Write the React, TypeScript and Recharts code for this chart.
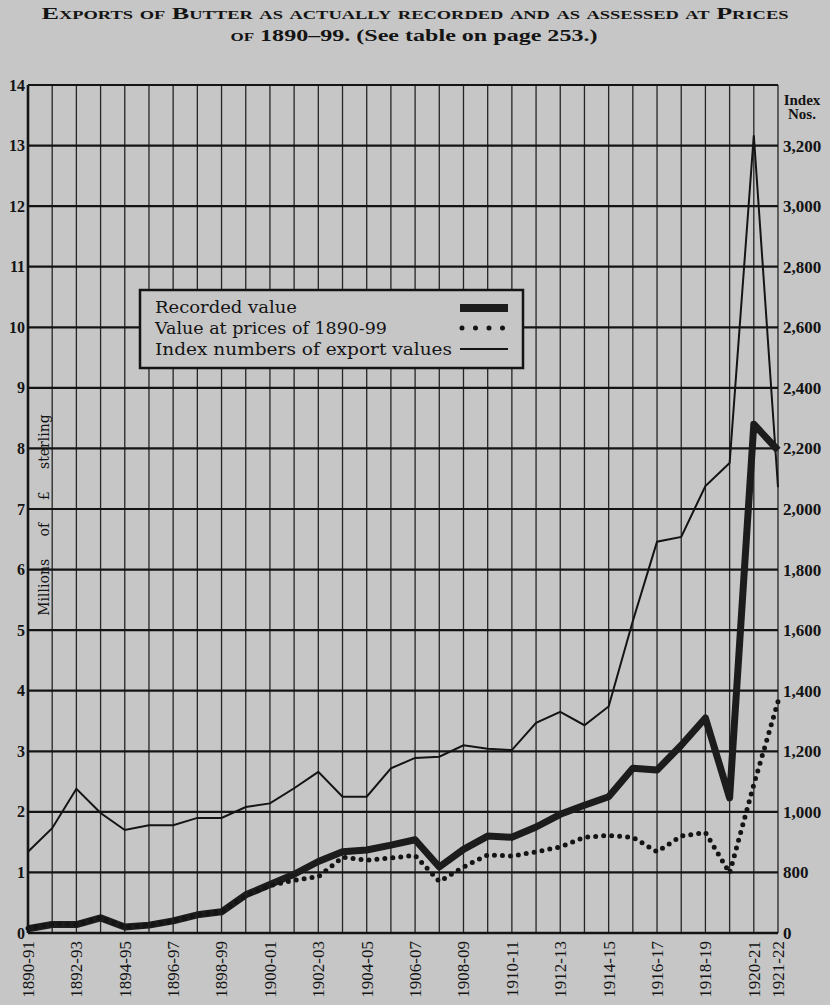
import React from 'react';
import { LineChart, Line, XAxis, YAxis, CartesianGrid } from 'recharts';

const years = [
  '1890-91', '1891-92', '1892-93', '1893-94', '1894-95', '1895-96', '1896-97', '1897-98',
  '1898-99', '1899-00', '1900-01', '1901-02', '1902-03', '1903-04', '1904-05', '1905-06',
  '1906-07', '1907-08', '1908-09', '1909-10', '1910-11', '1911-12', '1912-13', '1913-14',
  '1914-15', '1915-16', '1916-17', '1917-18', '1918-19', '1919-20', '1920-21', '1921-22',
];

const labeledYears = [
  '1890-91', '1892-93', '1894-95', '1896-97', '1898-99', '1900-01', '1902-03', '1904-05',
  '1906-07', '1908-09', '1910-11', '1912-13', '1914-15', '1916-17', '1918-19', '1920-21', '1921-22',
];

// Millions of £ sterling
const recordedValue = [
  0.07, 0.14, 0.14, 0.25, 0.1, 0.13, 0.2, 0.3,
  0.35, 0.63, 0.8, 0.97, 1.18, 1.34, 1.37, 1.45,
  1.54, 1.09, 1.38, 1.6, 1.58, 1.75, 1.96, 2.11,
  2.25, 2.72, 2.69, 3.1, 3.55, 2.23, 8.4, 7.97,
];

const valueAt1890Prices = [
  0.08, 0.15, 0.14, 0.25, 0.1, 0.13, 0.2, 0.3,
  0.35, 0.62, 0.78, 0.87, 0.93, 1.25, 1.2, 1.24,
  1.28, 0.85, 1.09, 1.29, 1.27, 1.34, 1.42, 1.58,
  1.61, 1.58, 1.34, 1.6, 1.66, 0.99, 2.45, 3.82,
];

// Index numbers of export values (right scale)
const indexNumbers = [
  868, 946, 1076, 996, 940, 956, 956, 980,
  980, 1016, 1028, 1078, 1132, 1050, 1050, 1144,
  1178, 1182, 1220, 1208, 1204, 1294, 1330, 1286,
  1348, 1630, 1892, 1908, 2076, 2152, 3234, 2072,
];

const leftTicks = [0, 1, 2, 3, 4, 5, 6, 7, 8, 9, 10, 11, 12, 13, 14];
const indexTicks = [0, 800, 1000, 1200, 1400, 1600, 1800, 2000, 2200, 2400, 2600, 2800, 3000, 3200];

const BG = '#c6c6c6';
const INK = '#141414';
const SERIF = '"Liberation Serif", "DejaVu Serif", serif';
const SERIF2 = '"DejaVu Serif", "Liberation Serif", serif';

// right-hand scale: 0–800 occupies the first division, then 200 per division
const indexToScale = (idx: number) => (idx <= 800 ? idx / 800 : 1 + (idx - 800) / 200);
const indexTickPositions = indexTicks.map(indexToScale);

const data = years.map((year, i) => ({
  year,
  recorded: recordedValue[i],
  constant: valueAt1890Prices[i],
  index: indexToScale(indexNumbers[i]),
}));

const fmtIndex = (v: number) => {
  const k = indexTickPositions.indexOf(v);
  const n = k >= 0 ? indexTicks[k] : v;
  return n.toLocaleString('en-US');
};

const XTick = (props: any) => {
  const { x, payload } = props;
  if (!labeledYears.includes(payload.value)) return <g />;
  const yy = 941;
  return (
    <text
      x={x}
      y={yy}
      transform={`rotate(-90 ${x} ${yy})`}
      textAnchor="end"
      dy="0.35em"
      fontSize={17}
      fontFamily={SERIF}
      fill={INK}
    >
      {payload.value}
    </text>
  );
};

const LeftTick = (props: any) => {
  const { y, payload } = props;
  return (
    <text x={25} y={y} textAnchor="end" dy="0.35em" fontSize={16} fontFamily={SERIF} fontWeight={700} fill={INK}>
      {payload.value}
    </text>
  );
};

const RightTick = (props: any) => {
  const { y, payload } = props;
  return (
    <text x={783} y={y} textAnchor="start" dy="0.35em" fontSize={17} fontFamily={SERIF} fontWeight={700} fill={INK}>
      {fmtIndex(payload.value)}
    </text>
  );
};

export default function App() {
  return (
    <div style={{ position: 'absolute', left: 0, top: 0, width: 830, height: 1005, background: BG, overflow: 'hidden' }}>
      <LineChart
        width={830}
        height={1005}
        data={data}
        margin={{ top: 85, right: 0, bottom: 0, left: 0 }}
      >
        <CartesianGrid horizontal={false} stroke={INK} strokeWidth={1.3} strokeOpacity={0.9} />
        <CartesianGrid vertical={false} stroke={INK} strokeWidth={2.2} />
        <XAxis
          dataKey="year"
          interval={0}
          height={72}
          tickLine={false}
          axisLine={{ stroke: INK, strokeWidth: 2.6 }}
          tick={<XTick />}
        />
        <YAxis
          domain={[0, 14]}
          ticks={leftTicks}
          width={28}
          tickLine={false}
          axisLine={{ stroke: INK, strokeWidth: 2.6 }}
          tick={<LeftTick />}
          interval={0}
        />
        <YAxis
          yAxisId="right"
          orientation="right"
          type="number"
          domain={[0, 14]}
          allowDataOverflow
          ticks={indexTickPositions}
          width={52}
          tickLine={false}
          axisLine={false}
          tick={<RightTick />}
          interval={0}
        />
        <Line
          type="linear"
          yAxisId="right"
          dataKey="index"
          stroke={INK}
          strokeWidth={2}
          dot={false}
          isAnimationActive={false}
        />
        <Line
          type="linear"
          dataKey="recorded"
          stroke="#1c1c1c"
          strokeWidth={7}
          strokeLinejoin="round"
          dot={false}
          isAnimationActive={false}
        />
        <Line
          type="linear"
          dataKey="constant"
          stroke={INK}
          strokeWidth={5}
          strokeDasharray="0 8"
          strokeLinecap="round"
          dot={false}
          isAnimationActive={false}
        />
      </LineChart>

      <svg
        width={830}
        height={1005}
        style={{ position: 'absolute', left: 0, top: 0, pointerEvents: 'none' }}
      >
        {/* Title */}
        <text
          x={415}
          y={19}
          textAnchor="middle"
          fontSize={17}
          fontFamily={SERIF}
          fontWeight={700}
          fill={INK}
          textLength={747}
          lengthAdjust="spacingAndGlyphs"
          style={{ fontVariant: 'small-caps' }}
        >
          Exports of Butter as actually recorded and as assessed at Prices
        </text>
        <text
          x={414}
          y={41}
          textAnchor="middle"
          fontSize={17}
          fontFamily={SERIF}
          fontWeight={700}
          fill={INK}
          textLength={367}
          lengthAdjust="spacingAndGlyphs"
        >
          <tspan style={{ fontVariant: 'small-caps' }}>of</tspan> 1890–99.  (See table on page 253.)
        </text>

        {/* Right axis heading */}
        <text x={802} y={105} textAnchor="middle" fontSize={15} fontFamily={SERIF} fontWeight={700} fill={INK}>Index</text>
        <text x={802} y={119} textAnchor="middle" fontSize={15} fontFamily={SERIF} fontWeight={700} fill={INK}>Nos.</text>

        {/* Left axis label */}
        <text
          x={44}
          y={515}
          transform="rotate(-90 44 515)"
          textAnchor="middle"
          dy="0.35em"
          fontSize={14}
          fontFamily={SERIF2}
          fill={INK}
          style={{ wordSpacing: '18px' }}
        >
          Millions of £ sterling
        </text>

        {/* Legend */}
        <rect x={140} y={290} width={383} height={78} fill={BG} stroke={INK} strokeWidth={2.5} />
        <text x={155} y={313} fontSize={17} fontFamily={SERIF2} fill={INK} textLength={142} lengthAdjust="spacingAndGlyphs">Recorded value</text>
        <text x={155} y={334} fontSize={17} fontFamily={SERIF2} fill={INK} textLength={232} lengthAdjust="spacingAndGlyphs">Value at prices of 1890-99</text>
        <text x={155} y={355} fontSize={17} fontFamily={SERIF2} fill={INK} textLength={297} lengthAdjust="spacingAndGlyphs">Index numbers of export values</text>
        <rect x={460} y={304} width={48} height={8} fill="#1c1c1c" />
        <line x1={462} y1={328} x2={503} y2={328} stroke={INK} strokeWidth={5} strokeDasharray="0 13.5" strokeLinecap="round" />
        <line x1={460} y1={349} x2={508} y2={349} stroke={INK} strokeWidth={2} />
      </svg>
    </div>
  );
}
